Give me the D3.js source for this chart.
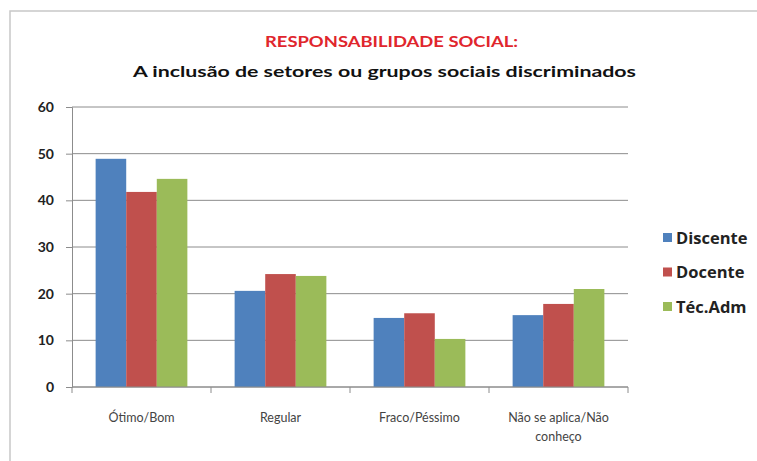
<!DOCTYPE html>
<html>
<head>
<meta charset="utf-8">
<script src="https://cdn.jsdelivr.net/npm/d3@7"></script>
<style>
  body { margin: 0; background: #fff; }
  svg { display: block; font-family: Lato, "Open Sans", sans-serif; }
</style>
</head>
<body>
<div id="chart"></div>
<script>

var categories = ["Ótimo/Bom", "Regular", "Fraco/Péssimo", "Não se aplica/Não conheço"];
var seriesNames = ["Discente", "Docente", "Téc.Adm"];
var discente = [48.9, 20.6, 14.8, 15.4];
var docente = [41.8, 24.2, 15.8, 17.8];
var tecAdm = [44.6, 23.8, 10.3, 21.0];
var yTicks = [0, 10, 20, 30, 40, 50, 60];
var colors = ["#4F81BD", "#C0504D", "#9BBB59"];

var width = 757, height = 461;
var margin = {left: 72, right: 129, top: 107, bottom: 74};

var svg = d3.select("#chart").append("svg")
    .attr("width", width)
    .attr("height", height);

// chart frame
svg.append("rect")
    .attr("x", 10).attr("y", 11)
    .attr("width", 760).attr("height", 470)
    .attr("fill", "none")
    .attr("stroke", "#c8c8c8")
    .attr("stroke-width", 1.5);

svg.append("text")
    .attr("x", 391.5).attr("y", 47)
    .attr("text-anchor", "middle")
    .attr("fill", "#e0262d")
    .style("font-family", "Lato, sans-serif")
    .attr("font-size", 15)
    .attr("font-weight", "bold")
    .attr("textLength", 253)
    .attr("lengthAdjust", "spacingAndGlyphs")
    .text("RESPONSABILIDADE SOCIAL:");

svg.append("text")
    .attr("x", 384.5).attr("y", 77)
    .attr("text-anchor", "middle")
    .attr("fill", "#111")
    .style("font-family", "Lato, sans-serif")
    .attr("font-size", 16)
    .attr("font-weight", "bold")
    .attr("textLength", 503)
    .attr("lengthAdjust", "spacingAndGlyphs")
    .text("A inclusão de setores ou grupos sociais discriminados");

var x = d3.scaleBand()
    .domain(categories)
    .range([margin.left, width - margin.right])
    .paddingInner(0.34)
    .paddingOuter(0.17);

var xSub = d3.scaleBand()
    .domain(seriesNames)
    .range([0, x.bandwidth()]);

var y = d3.scaleLinear()
    .domain([0, 60])
    .range([height - margin.bottom, margin.top]);

// gridlines
svg.append("g")
    .selectAll("line")
    .data(yTicks)
    .join("line")
    .attr("x1", margin.left).attr("x2", width - margin.right)
    .attr("y1", function(d) { return y(d); })
    .attr("y2", function(d) { return y(d); })
    .attr("stroke", "#8c8c8c")
    .attr("stroke-width", 1);

var rows = categories.map(function(c, i) {
    return {cat: c, values: [discente[i], docente[i], tecAdm[i]]};
});

svg.append("g")
    .selectAll("g")
    .data(rows)
    .join("g")
    .attr("transform", function(d) { return "translate(" + x(d.cat) + ",0)"; })
    .selectAll("rect")
    .data(function(d) { return d.values; })
    .join("rect")
    .attr("x", function(d, i) { return xSub(seriesNames[i]); })
    .attr("width", xSub.bandwidth())
    .attr("y", function(d) { return y(d); })
    .attr("height", function(d) { return y(0) - y(d); })
    .attr("fill", function(d, i) { return colors[i]; });

// y axis
var yAxis = svg.append("g")
    .attr("transform", "translate(" + margin.left + ",0)")
    .call(d3.axisLeft(y).tickValues(yTicks).tickSize(6).tickPadding(12));
yAxis.select(".domain").attr("stroke", "#8c8c8c");
yAxis.selectAll(".tick line").attr("stroke", "#8c8c8c");
yAxis.selectAll("text")
    .attr("font-family", "Lato, sans-serif")
    .attr("font-size", 14)
    .attr("font-weight", "bold")
    .attr("fill", "#222");

// x axis with ticks between categories
var xAxisG = svg.append("g")
    .attr("transform", "translate(0," + y(0) + ")");
xAxisG.append("line")
    .attr("x1", margin.left).attr("x2", width - margin.right)
    .attr("stroke", "#8c8c8c");
var bounds = d3.range(categories.length + 1).map(function(i) {
    return margin.left + i * (width - margin.left - margin.right) / categories.length;
});
xAxisG.selectAll(".sep")
    .data(bounds)
    .join("line")
    .attr("x1", function(d) { return d; })
    .attr("x2", function(d) { return d; })
    .attr("y1", 0).attr("y2", 6)
    .attr("stroke", "#8c8c8c");

var labelLines = {
    "Ótimo/Bom": ["Ótimo/Bom"],
    "Regular": ["Regular"],
    "Fraco/Péssimo": ["Fraco/Péssimo"],
    "Não se aplica/Não conheço": ["Não se aplica/Não", "conheço"]
};
xAxisG.selectAll(".lbl")
    .data(categories)
    .join("text")
    .attr("x", function(d) { return x(d) + x.bandwidth() / 2; })
    .attr("y", 35)
    .attr("text-anchor", "middle")
    .attr("font-size", 12.5)
    .attr("fill", "#444")
    .each(function(d) {
        var t = d3.select(this);
        labelLines[d].forEach(function(line, i) {
            t.append("tspan")
                .attr("x", x(d) + x.bandwidth() / 2)
                .attr("dy", i === 0 ? 0 : 19)
                .text(line);
        });
    });

// legend
var legend = svg.append("g")
    .selectAll("g")
    .data(seriesNames)
    .join("g")
    .attr("transform", function(d, i) { return "translate(663," + (238 + i * 34.5) + ")"; });
legend.append("rect")
    .attr("x", 0).attr("y", -5)
    .attr("width", 9).attr("height", 9)
    .attr("fill", function(d, i) { return colors[i]; });
legend.append("text")
    .attr("x", 13).attr("y", 0)
    .attr("dy", "0.35em")
    .style("font-family", "'Open Sans', sans-serif")
    .attr("font-size", 16.5)
    .attr("font-weight", "bold")
    .attr("fill", "#222")
    .text(function(d) { return d; });

</script>
</body>
</html>
